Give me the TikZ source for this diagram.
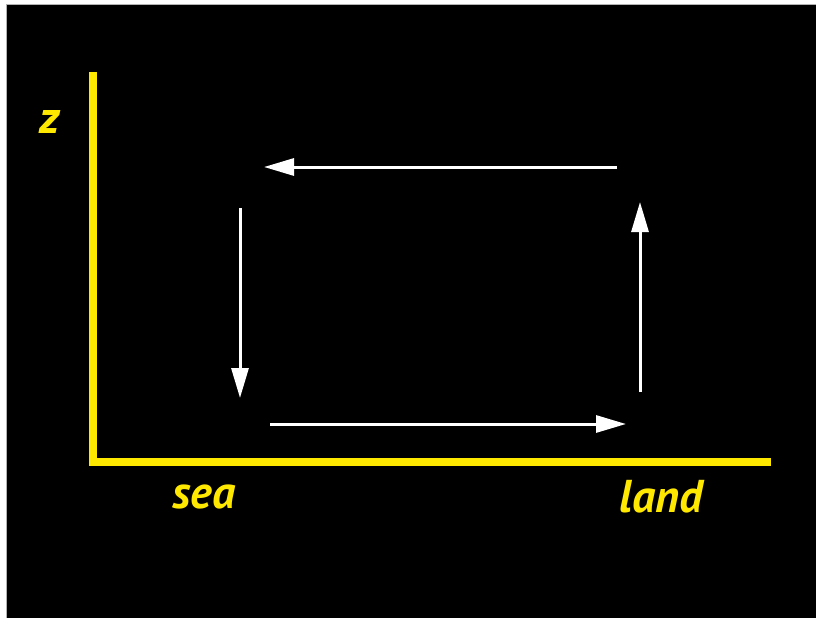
\documentclass[tikz,border=0pt]{standalone}
\usepackage{fontspec}
\setmainfont{PT Sans}
\usetikzlibrary{arrows.meta}
\definecolor{axisyellow}{RGB}{255,232,0}
\tikzset{
  axisline/.style={axisyellow, line width=8pt},
  flow/.style={white, line width=3pt, -{Triangle[length=30pt,width=17pt]}},
  lbl/.style={axisyellow, font=\fontsize{46}{48}\selectfont\bfseries\itshape, inner sep=0pt}
}
\begin{document}
\begin{tikzpicture}[x=1pt,y=-1pt]
\useasboundingbox (0,0) rectangle (816,618);
\fill[white] (0,0) rectangle (816,618);
\fill[black] (6,5) rectangle (816,618);
\draw[gray!60, line width=1pt] (6,618) -- (6,5) -- (816,5);
% axes
\coordinate (ytop) at (93,72);
\coordinate (origin) at (93,462);
\coordinate (xend) at (771,462);
\draw[axisline] (ytop) -- (origin) -- (xend);
% labels
\node[lbl] (z) at (50,122) {z};
\node[lbl] (sea) at (204,497) {sea};
\node[lbl] (land) at (661,497) {land};
% circulation
\coordinate (t1) at (617,167);
\coordinate (t2) at (264,167);
\coordinate (l1) at (240,208);
\coordinate (l2) at (240,398);
\coordinate (b1) at (270,424);
\coordinate (b2) at (626,424);
\coordinate (r1) at (640,392);
\coordinate (r2) at (640,202);
\draw[flow] (t1) -- (t2);
\draw[flow] (l1) -- (l2);
\draw[flow] (b1) -- (b2);
\draw[flow] (r1) -- (r2);
\end{tikzpicture}
\end{document}
